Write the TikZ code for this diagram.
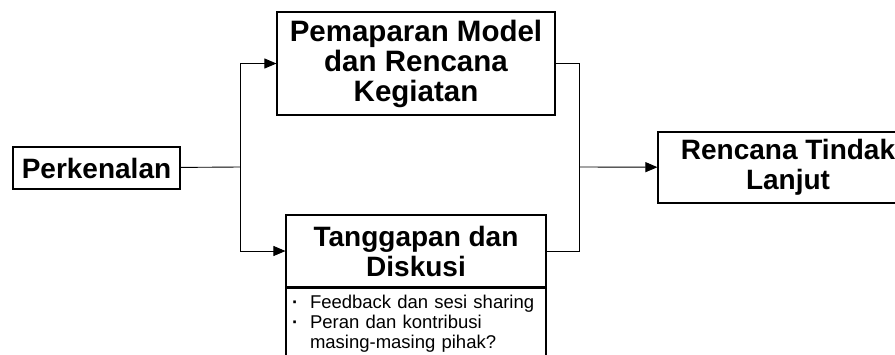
\documentclass[tikz,border=0pt]{standalone}
\usepackage{fontspec}
\setmainfont{Liberation Sans}
\usetikzlibrary{arrows.meta}

\tikzset{
  box/.style={draw, line width=1.1pt, rectangle, align=center, inner sep=0pt,
    font=\fontsize{28}{30}\selectfont\bfseries},
  link/.style={draw, line width=0.9pt},
  arr/.style={link, -{Triangle[length=12pt,width=10pt]}}
}

\begin{document}
\begin{tikzpicture}[x=1pt, y=-1pt]
  \useasboundingbox (0,0) rectangle (895,354);
  \clip (0,0) rectangle (895,354);

  % boxes
  \node [box, minimum width=167pt, minimum height=42pt] (perk) at (96.5,168) {Perkenalan};
  \node [box, minimum width=278pt, minimum height=103pt, font=\fontsize{29.5}{30}\selectfont\bfseries]
    (model) at (416,63.5) {Pemaparan Model\\dan Rencana\\Kegiatan};
  \node [box, minimum width=260pt, minimum height=72pt] (tang) at (416,251)
    {Tanggapan dan\\Diskusi};
  \node [draw, line width=1.1pt, anchor=north, text width=248pt, align=left,
    inner xsep=6pt, inner ysep=0pt, font=\fontsize{18.5}{20}\selectfont]
    (notes) at (tang.south) {\rule{0pt}{20pt}\makebox[18pt][l]{\textbf{·}}Feedback dan sesi sharing\\
      \makebox[18pt][l]{\textbf{·}}Peran dan kontribusi\\
      \hspace*{18pt}masing-masing pihak?\rule[-30pt]{0pt}{0pt}};
  \node [box, minimum width=260pt, minimum height=71pt] (rtl) at (788,167.5)
    {Rencana Tindak\\Lanjut};

  % junctions
  \coordinate (split) at (240,167);
  \coordinate (join) at (579,167);

  % connectors
  \draw [link] (perk) -- (split);
  \draw [arr] (split) |- (model.west);
  \draw [arr] (split) |- (tang.west);
  \draw [link] (model.east) -| (join);
  \draw [link] (tang.east) -| (join);
  \draw [arr] (join) -- (rtl);
\end{tikzpicture}
\end{document}
